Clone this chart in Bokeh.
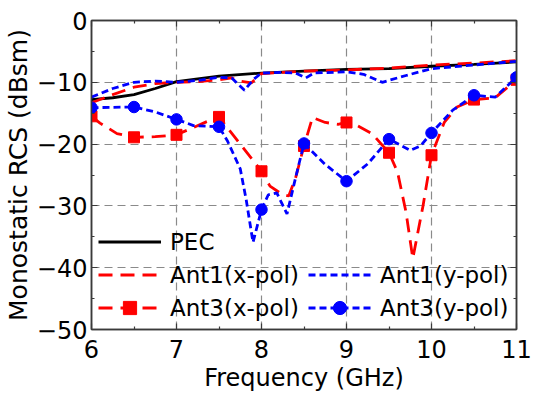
from bokeh.plotting import figure
from bokeh.models import Legend, LegendItem, LinearAxis, FixedTicker, Range1d
from bokeh.embed import file_html
from bokeh.resources import INLINE

# ---- data ----
freq_pec = [6, 6.25, 6.5, 6.75, 7, 7.5, 8, 8.5, 9, 9.5, 10, 10.5, 11]
pec = [-12.8, -12.5, -12.0, -11.0, -9.9, -9.0, -8.5, -8.2, -7.9, -7.8, -7.4, -7.1, -6.7]

freq_a1x = [6, 6.25, 6.5, 6.75, 7, 7.25, 7.5, 7.65, 7.75, 7.88, 8, 8.5, 9, 9.5, 10, 10.5, 11]
ant1_x = [-13.3, -12.0, -10.8, -10.2, -10.0, -9.9, -9.6, -9.3, -9.8, -10.1, -8.6, -8.2, -8.0,
          -7.7, -7.2, -6.9, -6.5]

freq_a1y = [6, 6.25, 6.5, 6.75, 7, 7.25, 7.5, 7.65, 7.8, 7.9, 8, 8.25, 8.4, 8.52, 8.62, 9,
            9.2, 9.42, 9.7, 10, 10.5, 11]
ant1_y = [-12.4, -11.0, -10.0, -9.8, -10.0, -9.7, -9.2, -9.3, -11.3, -9.6, -8.5, -8.4, -8.5,
          -9.3, -8.5, -8.3, -8.7, -10.0, -8.9, -7.8, -7.2, -6.6]

freq_a3x = [6, 6.1, 6.3, 6.5, 6.75, 7, 7.2, 7.35, 7.5, 7.75, 8, 8.1, 8.24, 8.32, 8.4, 8.5, 8.6,
            8.75, 8.9, 9, 9.1, 9.3, 9.5, 9.6, 9.7, 9.78, 9.9, 10, 10.15, 10.3, 10.5, 10.75, 11]
ant3_x = [-15.5, -16.6, -18.3, -18.9, -18.8, -18.5, -17.3, -16.4, -15.6, -20.0, -24.4, -26.8,
          -28.1, -28.4, -25.5, -20.3, -15.7, -16.5, -16.8, -16.5, -16.8, -18.3, -21.4, -24.5,
          -31.0, -38.5, -30.0, -21.8, -16.5, -14.0, -12.8, -12.5, -9.6]

freq_a3y = [6, 6.5, 6.75, 7, 7.2, 7.35, 7.5, 7.6, 7.75, 7.82, 7.9, 8, 8.08, 8.18, 8.3, 8.4, 8.5,
            8.75, 9, 9.25, 9.5, 9.75, 9.87, 10, 10.25, 10.5, 10.75, 11]
ant3_y = [-14.1, -14.0, -14.8, -16.0, -17.0, -17.1, -17.2, -19.5, -24.0, -29.0, -35.9, -30.6,
          -28.2, -27.9, -31.3, -25.5, -19.9, -23.3, -26.0, -23.2, -19.2, -21.0, -20.3, -18.2,
          -14.5, -12.1, -12.4, -9.2]

freq_marks = [6, 6.5, 7, 7.5, 8, 8.5, 9, 9.5, 10, 10.5, 11]
ant3_x_marks = [-15.5, -18.9, -18.5, -15.6, -24.4, -20.3, -16.5, -21.4, -21.8, -12.8, -9.6]
ant3_y_marks = [-14.1, -14.0, -16.0, -17.2, -30.6, -19.9, -26.0, -19.2, -18.2, -12.1, -9.2]

x_ticks = [6, 7, 8, 9, 10, 11]
x_minor = [6.5, 7.5, 8.5, 9.5, 10.5]
y_ticks = [-50, -40, -30, -20, -10, 0]
y_minor = [-45, -35, -25, -15, -5]
y_tick_labels = {t: (("\u2212" + str(abs(t))) if t < 0 else str(t)) for t in y_ticks}

labels = ["PEC", "Ant1(x-pol)", "Ant1(y-pol)", "Ant3(x-pol)", "Ant3(y-pol)"]

# ---- style ----
FONT = "DejaVu Sans"
RED = "#FF0000"
BLUE = "#0000FF"
FRAME = "#3a3a3a"

p = figure(width=534, height=402, output_backend="svg", toolbar_location=None,
           x_range=Range1d(6, 11), y_range=Range1d(-50, 0),
           min_border_left=91, min_border_right=18, min_border_top=20, min_border_bottom=73,
           x_axis_label="Frequency (GHz)", y_axis_label="Monostatic RCS (dBsm)")
p.background_fill_color = "white"
p.border_fill_color = "white"
p.outline_line_color = FRAME
p.outline_line_width = 1.5

bottom_ax = p.below[0]
left_ax = p.left[0]

xt = FixedTicker(ticks=x_ticks, minor_ticks=x_minor)
yt = FixedTicker(ticks=y_ticks, minor_ticks=y_minor)

top_ax = LinearAxis(ticker=xt)
right_ax = LinearAxis(ticker=yt)
p.add_layout(top_ax, "above")
p.add_layout(right_ax, "right")

bottom_ax.ticker = xt
bottom_ax.major_label_standoff = 10
bottom_ax.axis_label_standoff = 3
left_ax.ticker = yt
left_ax.major_label_overrides = y_tick_labels
left_ax.major_label_standoff = 4
left_ax.axis_label_standoff = 1

for ax in [bottom_ax, left_ax, top_ax, right_ax]:
    ax.axis_line_color = FRAME
    ax.axis_line_width = 1.5
    ax.major_tick_line_color = FRAME
    ax.minor_tick_line_color = FRAME
    ax.major_tick_line_width = 1.2
    ax.minor_tick_line_width = 1.2
    ax.major_tick_in = 6
    ax.major_tick_out = 0
    ax.minor_tick_in = 3
    ax.minor_tick_out = 0
    ax.major_label_text_font = FONT
    ax.major_label_text_font_size = "24px"
    ax.major_label_text_color = "black"
    ax.axis_label_text_font = FONT
    ax.axis_label_text_font_style = "normal"
    ax.axis_label_text_color = "black"

bottom_ax.axis_label_text_font_size = "24px"
left_ax.axis_label_text_font_size = "25px"

for ax in [top_ax, right_ax]:
    ax.major_label_text_font_size = "1px"
    ax.major_label_text_color = None
    ax.major_label_standoff = 0

p.xgrid.ticker = xt
p.ygrid.ticker = yt
for g in [p.xgrid[0], p.ygrid[0]]:
    g.grid_line_color = "#8a8a8a"
    g.grid_line_dash = "8 5"
    g.grid_line_width = 1.2

# ---- curves ----
r_pec = p.line(freq_pec, pec, line_color="black", line_width=2.8)
r_a1x = p.line(freq_a1x, ant1_x, line_color=RED, line_width=2.8, line_dash="14 8")
r_a1y = p.line(freq_a1y, ant1_y, line_color=BLUE, line_width=2.8, line_dash="7 4")
r_a3x = p.line(freq_a3x, ant3_x, line_color=RED, line_width=2.8, line_dash="14 8")
s_a3x = p.scatter(freq_marks, ant3_x_marks, marker="square", size=11,
                  fill_color=RED, line_color=RED)
r_a3y = p.line(freq_a3y, ant3_y, line_color=BLUE, line_width=2.8, line_dash="7 4")
s_a3y = p.scatter(freq_marks, ant3_y_marks, marker="circle", size=11.5,
                  fill_color=BLUE, line_color=BLUE)

# ---- legends ----
def make_legend(items, loc):
    lg = Legend(items=items, location=loc)
    lg.background_fill_alpha = 0
    lg.border_line_color = None
    lg.padding = 0
    lg.margin = 0
    lg.spacing = 0
    lg.glyph_width = 63
    lg.glyph_height = 33
    lg.label_height = 33
    lg.label_standoff = 9
    lg.label_text_font = FONT
    lg.label_text_font_size = "23px"
    lg.label_text_color = "black"
    return lg

leg1 = make_legend([LegendItem(label=labels[0], renderers=[r_pec]),
                    LegendItem(label=labels[1], renderers=[r_a1x]),
                    LegendItem(label=labels[3], renderers=[r_a3x, s_a3x])], (7, 5))
leg2 = make_legend([LegendItem(label=labels[2], renderers=[r_a1y]),
                    LegendItem(label=labels[4], renderers=[r_a3y, s_a3y])], (217, 5))
p.add_layout(leg1)
p.add_layout(leg2)

open("out.html", "w").write(file_html(p, INLINE))
